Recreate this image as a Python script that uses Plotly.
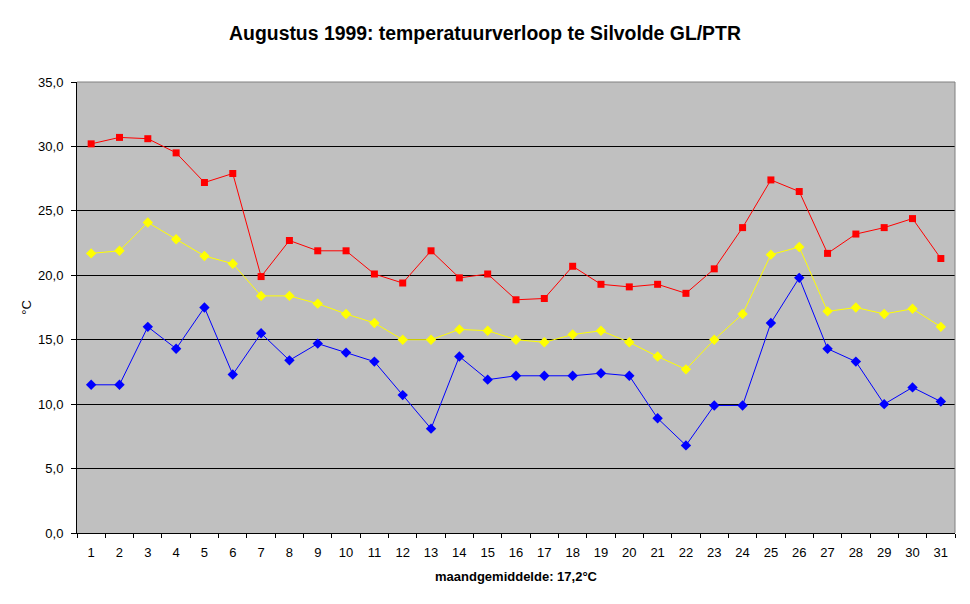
import plotly.graph_objects as go

# Dagwaarden augustus 1999, Silvolde
dagen = [str(d) for d in range(1, 32)]

max_temp = [30.2, 30.7, 30.6, 29.5, 27.2, 27.9, 19.9, 22.7, 21.9, 21.9,
            20.1, 19.4, 21.9, 19.8, 20.1, 18.1, 18.2, 20.7, 19.3, 19.1,
            19.3, 18.6, 20.5, 23.7, 27.4, 26.5, 21.7, 23.2, 23.7, 24.4, 21.3]

gem_temp = [21.7, 21.9, 24.1, 22.8, 21.5, 20.9, 18.4, 18.4, 17.8, 17.0,
            16.3, 15.0, 15.0, 15.8, 15.7, 15.0, 14.8, 15.4, 15.7, 14.8,
            13.7, 12.7, 15.0, 17.0, 21.6, 22.2, 17.2, 17.5, 17.0, 17.4, 16.0]

min_temp = [11.5, 11.5, 16.0, 14.3, 17.5, 12.3, 15.5, 13.4, 14.7, 14.0,
            13.3, 10.7, 8.1, 13.7, 11.9, 12.2, 12.2, 12.2, 12.4, 12.2,
            8.9, 6.8, 9.9, 9.9, 16.3, 19.8, 14.3, 13.3, 10.0, 11.3, 10.2]

y_ticks = [0, 5, 10, 15, 20, 25, 30, 35]

fig = go.Figure()

fig.add_trace(go.Scatter(
    x=dagen, y=max_temp, name='maximum', mode='lines+markers',
    line=dict(color='#FF0000', width=1),
    marker=dict(symbol='square', size=7, color='#FF0000')
))
fig.add_trace(go.Scatter(
    x=dagen, y=gem_temp, name='gemiddeld', mode='lines+markers',
    line=dict(color='#FFFF00', width=1),
    marker=dict(symbol='diamond', size=8, color='#FFFF00')
))
fig.add_trace(go.Scatter(
    x=dagen, y=min_temp, name='minimum', mode='lines+markers',
    line=dict(color='#0000FF', width=1),
    marker=dict(symbol='diamond', size=8, color='#0000FF')
))

# grijze rand boven en rechts van het plotvlak
fig.add_shape(type='line', xref='paper', yref='paper', x0=0, x1=1, y0=1, y1=1,
              line=dict(color='#808080', width=1), layer='above')
fig.add_shape(type='line', xref='paper', yref='paper', x0=1, x1=1, y0=0, y1=1,
              line=dict(color='#808080', width=1), layer='above')

# de pagina heeft 8px body-marge, dus figuur iets kleiner
fig.update_layout(
    width=962, height=596,
    margin=dict(l=69, r=15, t=74, b=71),
    paper_bgcolor='white',
    plot_bgcolor='#C0C0C0',
    separators=',.',
    showlegend=False,
    font=dict(family='Liberation Sans, Arial', size=13, color='black'),
    title=dict(text='<b>Augustus 1999: temperatuurverloop te Silvolde GL/PTR</b>',
               x=(485 - 8) / 962, xanchor='center', y=1 - 25 / 596, yanchor='middle',
               font=dict(size=19.4, color='black')),
    xaxis=dict(
        type='category',
        range=[-0.5, 30.5],
        tickson='boundaries',
        ticks='outside', ticklen=4, tickcolor='black',
        ticklabelstandoff=7,
        showgrid=False,
        showline=True, linecolor='black', linewidth=1,
        title=dict(text='<b>maandgemiddelde: 17,2°C</b>', standoff=13,
                   font=dict(size=13)),
    ),
    yaxis=dict(
        range=[0, 35],
        tickvals=y_ticks,
        tickformat='.1f',
        ticks='outside', ticklen=5, tickcolor='black',
        ticklabelstandoff=5,
        showgrid=True, gridcolor='black', gridwidth=1,
        zeroline=False,
        showline=True, linecolor='black', linewidth=1,
        title=dict(text='°C', standoff=3, font=dict(size=13)),
    ),
)

fig.write_html("out.html")
